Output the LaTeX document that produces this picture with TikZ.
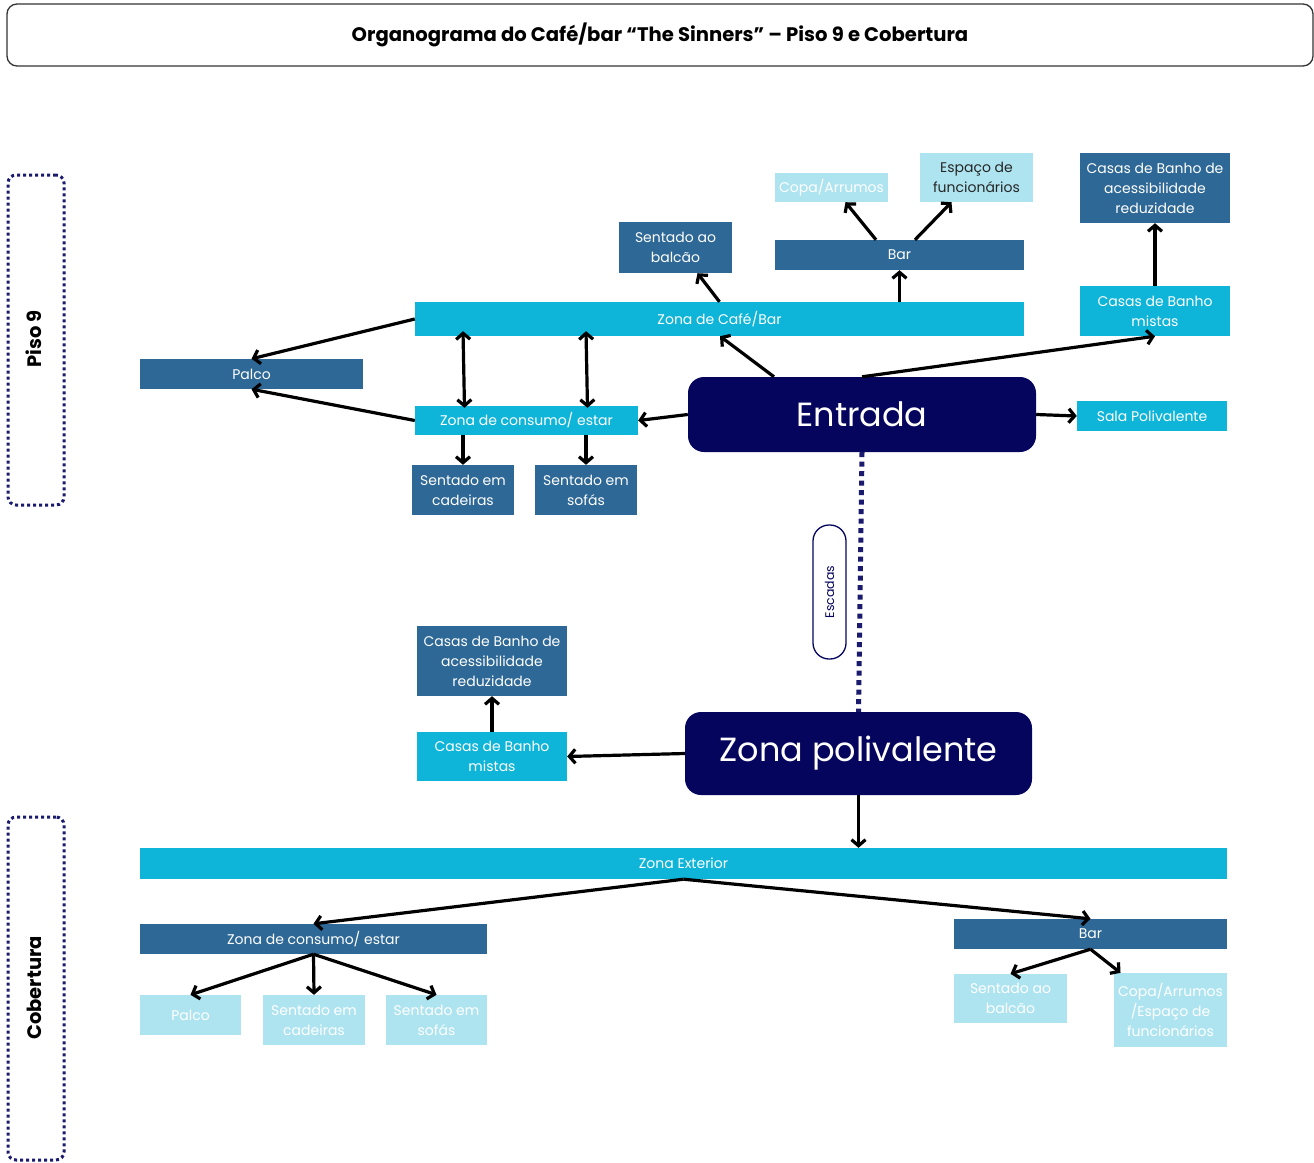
\documentclass[tikz,border=0pt]{standalone}
\usepackage{fontspec}
\setmainfont{Poppins}
\usetikzlibrary{arrows.meta}
\definecolor{dkb}{HTML}{2E6896}
\definecolor{cyb}{HTML}{0FB5D9}
\definecolor{ltb}{HTML}{AEE4F0}
\definecolor{navy}{HTML}{06055E}
\definecolor{dotnavy}{HTML}{1A1A6E}
\tikzset{
  box/.style={rectangle, inner sep=0pt, align=center, text=white, font=\fontsize{14}{20}\selectfont},
  dk/.style={box, fill=dkb},
  cy/.style={box, fill=cyb},
  lt/.style={box, fill=ltb},
  big/.style={rectangle, rounded corners=16pt, fill=navy, text=white, inner sep=0pt, font=\fontsize{33.5}{38}\selectfont},
  arr/.style={line width=3.2pt, -{Straight Barb[length=6pt,width=14pt]}},
  darr/.style={line width=3.2pt, {Straight Barb[length=6pt,width=14pt]}-{Straight Barb[length=6pt,width=14pt]}},
  floor/.style={rectangle, draw=dotnavy, line width=3pt, dash pattern=on 3pt off 3pt, rounded corners=8pt, minimum width=56pt, inner sep=0pt},
  floorlbl/.style={rotate=90, font=\fontsize{19.5}{22}\selectfont\bfseries, text=black}
}
\begin{document}
\begin{tikzpicture}[x=1pt,y=-1pt]
\useasboundingbox (0,0) rectangle (1314,1162);
% title
\node[draw=black!80, line width=1.3pt, rounded corners=10pt, minimum width=1306pt, minimum height=62pt, inner sep=0pt,
  font=\fontsize{19.6}{22}\selectfont\bfseries] (title) at (660,35) {Organograma do Café/bar “The Sinners” – Piso 9 e Cobertura};
% floor boxes
\node[floor, minimum height=330pt] (piso) at (36,340) {};
\node[floorlbl] (pisolbl) at (34,339) {Piso 9};
\node[floor, minimum height=343pt] (cob) at (36,988.5) {};
\node[floorlbl] (coblbl) at (34,988) {Cobertura};
% Piso 9 nodes
\node[dk, minimum width=113pt, minimum height=51pt] (balcao) at (675.5,247.5) {Sentado ao\\balcão};
\node[lt, minimum width=113pt, minimum height=29pt] (copa) at (831.5,187.5) {Copa/Arrumos};
\node[lt, minimum width=113pt, minimum height=49pt, text=black!85] (esp) at (976.5,177.5) {Espaço de\\funcionários};
\node[dk, minimum width=249pt, minimum height=30pt] (bar) at (899.5,255) {Bar};
\node[dk, minimum width=150pt, minimum height=70pt] (acess) at (1155,188) {Casas de Banho de\\acessibilidade\\reduzidade};
\node[cy, minimum width=150pt, minimum height=50pt] (mistas) at (1155,311) {Casas de Banho\\mistas};
\node[cy, minimum width=609pt, minimum height=34pt] (cafe) at (719.5,319) {Zona de Café/Bar};
\node[dk, minimum width=223pt, minimum height=30pt] (palco) at (251.5,374) {Palco};
\node[cy, minimum width=223pt, minimum height=29pt] (consumo) at (526.5,420.5) {Zona de consumo/ estar};
\node[dk, minimum width=102pt, minimum height=50pt] (cadeiras) at (463,490) {Sentado em\\cadeiras};
\node[dk, minimum width=102pt, minimum height=50pt] (sofas) at (586,490) {Sentado em\\sofás};
\node[big, minimum width=348pt, minimum height=75pt] (entrada) at (862,414.5) {Entrada};
\node[cy, minimum width=150pt, minimum height=30pt] (sala) at (1152,416) {Sala Polivalente};
% stairs
\node[rotate=90, draw=navy, line width=1.3pt, fill=white, rounded corners=16pt, minimum width=134pt, minimum height=33pt, inner sep=0pt,
  text=navy, font=\fontsize{12.5}{14}\selectfont] (escadas) at (829.5,592) {Escadas};
% lower
\node[dk, minimum width=150pt, minimum height=70pt] (acess2) at (492,661) {Casas de Banho de\\acessibilidade\\reduzidade};
\node[cy, minimum width=150pt, minimum height=49pt] (mistas2) at (492,756.5) {Casas de Banho\\mistas};
\node[big, minimum width=347pt, minimum height=83pt] (zpoli) at (858.5,753.5) {\raisebox{-2pt}{Zona polivalente}};
\node[cy, minimum width=1087pt, minimum height=31pt] (ext) at (683.5,863.5) {Zona Exterior};
\node[dk, minimum width=347pt, minimum height=30pt] (consumo2) at (313.5,939) {Zona de consumo/ estar};
\node[lt, minimum width=101pt, minimum height=40pt] (palco2) at (190.5,1015) {Palco};
\node[lt, minimum width=102pt, minimum height=50pt] (cad2) at (314,1020) {Sentado em\\cadeiras};
\node[lt, minimum width=101pt, minimum height=50pt] (sof2) at (436.5,1020) {Sentado em\\sofás};
\node[dk, minimum width=273pt, minimum height=30pt] (bar2) at (1090.5,934) {Bar};
\node[lt, minimum width=113pt, minimum height=49pt] (balc2) at (1010.5,998.5) {Sentado ao\\balcão};
\node[lt, minimum width=113pt, minimum height=74pt] (copa2) at (1170.5,1010) {Copa/Arrumos\\/Espaço de\\funcionários};
% arrows piso 9
\draw[arr] (cafe.north) -- ([xshift=22pt]balcao.south);
\draw[arr] ([xshift=180pt]cafe.north) -- (bar.south);
\draw[arr] ([xshift=-23.5pt]bar.north) -- ([xshift=14pt]copa.south);
\draw[arr] ([xshift=15.5pt]bar.north) -- ([xshift=-25pt]esp.south);
\draw[arr] (mistas.north) -- (acess.south);
\draw[arr] (cafe.west) -- (palco.north);
\draw[arr] (consumo.west) -- (palco.south);
\draw[darr] ([xshift=-256.5pt,yshift=5pt]cafe.south) -- ([xshift=-62pt,yshift=-2pt]consumo.north);
\draw[darr] ([xshift=-133.5pt,yshift=5pt]cafe.south) -- ([xshift=61pt,yshift=-2pt]consumo.north);
\draw[arr] ([xshift=-63.5pt]consumo.south) -- (cadeiras.north);
\draw[arr] ([xshift=59.5pt]consumo.south) -- (sofas.north);
\draw[arr] ([xshift=-88pt]entrada.north) -- ([xshift=0.5pt]cafe.south);
\draw[arr] (entrada.north) -- (mistas.south);
\draw[arr] (entrada.west) -- (consumo.east);
\draw[arr] (entrada.east) -- (sala.west);
% stairs line
\draw[dotnavy, line width=5pt, dash pattern=on 5pt off 4.5pt] (entrada.south) -- (zpoli.north);
% lower arrows
\draw[arr] (zpoli.west) -- (mistas2.east);
\draw[arr] (mistas2.north) -- (acess2.south);
\draw[arr] (zpoli.south) -- (zpoli.south |- ext.north);
\draw[arr] (ext.south) -- (consumo2.north);
\draw[arr] (ext.south) -- (bar2.north);
\draw[arr] (consumo2.south) -- (palco2.north);
\draw[arr] (consumo2.south) -- (cad2.north);
\draw[arr] (consumo2.south) -- (sof2.north);
\draw[arr] (bar2.south) -- (balc2.north);
\draw[arr] (bar2.south) -- ([xshift=-50pt]copa2.north);
\end{tikzpicture}
\end{document}
